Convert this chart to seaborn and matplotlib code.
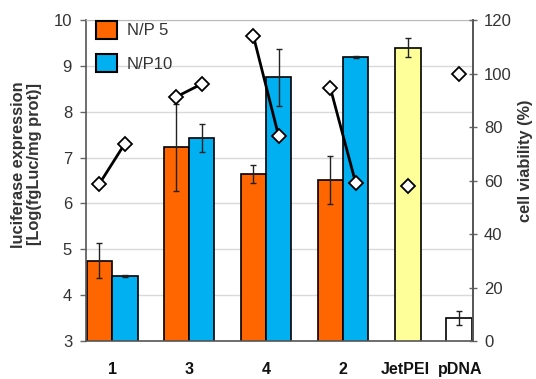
import numpy as np
import pandas as pd
import matplotlib
matplotlib.use("Agg")
import matplotlib.pyplot as plt
from matplotlib.patches import Patch
import seaborn as sns

# paired polymer groups
groups = ["1", "3", "4", "2"]
np5_expr = [4.75, 7.22, 6.64, 6.51]
np5_err = [0.38, 0.94, 0.20, 0.52]
np10_expr = [4.42, 7.43, 8.75, 9.19]
np10_err = [0.03, 0.30, 0.62, 0.02]
np5_viab = [58.8, 91.3, 114.1, 94.7]
np10_viab = [73.8, 96.1, 76.5, 59.1]

# controls
jetpei_expr, jetpei_err, jetpei_viab = 9.40, 0.21, 57.8
pdna_expr, pdna_err, pdna_viab = 3.5, 0.16, 100.0

orange = "#FF6600"
blue = "#00B0F0"
yellow = "#FFFF99"

df = pd.DataFrame({
    "group": groups * 2,
    "np": ["N/P 5"] * 4 + ["N/P10"] * 4,
    "expr": np5_expr + np10_expr,
})

sns.set_style("white")
plt.rcParams["font.family"] = ["Liberation Sans", "DejaVu Sans"]

fig = plt.figure(figsize=(5.36, 3.79), dpi=100)
ax = fig.add_axes([86 / 536, 38 / 379, 387 / 536, 321 / 379])

sns.barplot(data=df, x="group", y="expr", hue="np", order=groups,
            hue_order=["N/P 5", "N/P10"], palette=[orange, blue], saturation=1,
            width=0.66, edgecolor="black", linewidth=1.2, errorbar=None,
            legend=False, ax=ax)

# controls placed right of the paired groups
x_jet, x_pdna = 3.84, 4.51
ax.bar([x_jet], [jetpei_expr], width=0.34, color=yellow, edgecolor="black", linewidth=1.2)
ax.bar([x_pdna], [pdna_expr], width=0.34, color="white", edgecolor="black", linewidth=1.2)

x5 = [p.get_x() + p.get_width() / 2 for p in ax.containers[0]]
x10 = [p.get_x() + p.get_width() / 2 for p in ax.containers[1]]

eb = dict(fmt="none", ecolor="#222222", elinewidth=1, capsize=2.5, capthick=1, zorder=5)
ax.errorbar(x5, np5_expr, yerr=np5_err, **eb)
ax.errorbar(x10, np10_expr, yerr=np10_err, **eb)
ax.errorbar([x_jet, x_pdna], [jetpei_expr, pdna_expr], yerr=[jetpei_err, pdna_err], **eb)

ax.set_ylim(3, 10)
ax.set_xlim(-0.34, 4.69)
ax.set_yticks(range(3, 11))
ax.grid(axis="y", color="#d9d9d9", linewidth=1)
ax.set_axisbelow(True)
ax.set_xticks([0, 1, 2, 3, x_jet - 0.03, x_pdna + 0.01])
ax.set_xticklabels(groups + ["JetPEI", "pDNA"], fontweight="bold", fontsize=11.5)
ax.tick_params(axis="x", length=0, pad=15, colors="#111111")
ax.tick_params(axis="y", length=4, width=1, color="#666666", labelsize=12,
               labelcolor="#333333", direction="out", pad=6)
ax.set_xlabel("")
ax.set_ylabel("luciferase expression\n[Log(fgLuc/mg prot)]", fontweight="bold",
              fontsize=11.8, color="#333333", linespacing=1.05)
ax.yaxis.set_label_coords(-0.114, 0.55)

for side in ["left", "bottom", "right"]:
    ax.spines[side].set_color("#555555")
    ax.spines[side].set_linewidth(1.2)
ax.spines["top"].set_color("#bbbbbb")

ax2 = ax.twinx()
ax2.set_ylim(0, 120)
ax2.set_yticks(range(0, 121, 20))
for xa, xb, va, vb in zip(x5, x10, np5_viab, np10_viab):
    ax2.plot([xa, xb], [va, vb], color="black", linewidth=2, marker="D",
             markersize=7.5, markerfacecolor="white", markeredgecolor="black",
             markeredgewidth=1.3)
ax2.plot([x_jet, x_pdna], [jetpei_viab, pdna_viab], linestyle="none", marker="D",
         markersize=7.5, markerfacecolor="white", markeredgecolor="black",
         markeredgewidth=1.3)
ax2.tick_params(axis="y", length=6, width=1, color="#666666", labelsize=12,
                labelcolor="#333333", direction="inout", pad=5)
ax2.set_ylabel("cell viability (%)", fontweight="bold", fontsize=11.8, color="#333333")
ax2.yaxis.set_label_coords(1.116, 0.56)
for side in ["left", "bottom", "top"]:
    ax2.spines[side].set_visible(False)
ax2.spines["right"].set_color("#555555")
ax2.spines["right"].set_linewidth(1.2)

handles = [Patch(facecolor=orange, edgecolor="black", linewidth=1.5, label="N/P 5"),
           Patch(facecolor=blue, edgecolor="black", linewidth=1.5, label="N/P10")]
ax.legend(handles=handles, loc="upper left", bbox_to_anchor=(10 / 387, 1 - 1 / 321),
          frameon=False, fontsize=12, handlelength=1.25, handleheight=1.25,
          handletextpad=0.6, labelspacing=0.95, borderpad=0, borderaxespad=0,
          labelcolor="#333333")

fig.savefig("out.png", dpi=100)
